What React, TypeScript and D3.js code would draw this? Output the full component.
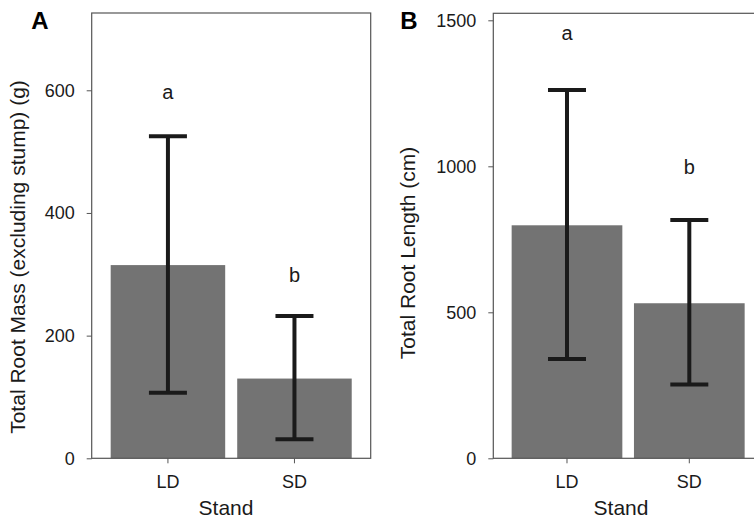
import React, { useRef, useEffect } from 'react';
import * as d3 from 'd3';

// stands on the x axis
const stands = ['LD', 'SD'];

// panel A: total root mass (g)
const massMean = [315, 130];
const massLow = [107, 31];
const massHigh = [525, 232];
const massLetters = ['a', 'b'];
const massLetterY = [598, 299];
const massTicks = [0, 200, 400, 600];

// panel B: total root length (cm)
const lengthMean = [798, 531];
const lengthLow = [340, 253];
const lengthHigh = [1261, 816];
const lengthLetters = ['a', 'b'];
const lengthLetterY = [1455, 998];
const lengthTicks = [0, 500, 1000, 1500];

const W = 754;
const H = 517;

function App() {
  const ref = useRef<SVGSVGElement>(null);

  useEffect(() => {
    const svg = d3.select(ref.current);
    svg.selectAll('*').remove();

    const font = 'Liberation Sans, Arial, sans-serif';

    const drawPanel = (opts: any) => {
      const { left, right, top, bottom, ymax, mean, low, high, letters, letterY, ticks, title, tag, tagX, titleX, titleY, standX } = opts;

      const g = svg.append('g');

      const x = d3.scaleBand()
        .domain(stands)
        .range([left, right])
        .paddingInner(0.095)
        .paddingOuter(0.15);

      const y = d3.scaleLinear()
        .domain([0, ymax])
        .range([bottom, top]);

      // bars
      g.selectAll('rect.bar')
        .data(stands)
        .join('rect')
        .attr('class', 'bar')
        .attr('x', d => x(d)!)
        .attr('width', x.bandwidth())
        .attr('y', (d, i) => y(mean[i]))
        .attr('height', (d, i) => y(0) - y(mean[i]))
        .attr('fill', '#737373');

      // frame
      g.append('rect')
        .attr('x', left)
        .attr('y', top)
        .attr('width', right - left)
        .attr('height', bottom - top)
        .attr('fill', 'none')
        .attr('stroke', '#555')
        .attr('stroke-width', 1.2);

      // error bars
      const cap = 19;
      const eb = g.append('g')
        .attr('stroke', '#1a1a1a')
        .attr('stroke-width', 4)
        .attr('fill', 'none');
      stands.forEach((s, i) => {
        const cx = x(s)! + x.bandwidth() / 2;
        eb.append('line').attr('x1', cx).attr('x2', cx).attr('y1', y(low[i])).attr('y2', y(high[i]));
        eb.append('line').attr('x1', cx - cap).attr('x2', cx + cap).attr('y1', y(low[i])).attr('y2', y(low[i]));
        eb.append('line').attr('x1', cx - cap).attr('x2', cx + cap).attr('y1', y(high[i])).attr('y2', y(high[i]));
      });

      // letters
      g.selectAll('text.letter')
        .data(stands)
        .join('text')
        .attr('class', 'letter')
        .attr('x', d => x(d)! + x.bandwidth() / 2)
        .attr('y', (d, i) => y(letterY[i]))
        .attr('dy', '0.35em')
        .attr('text-anchor', 'middle')
        .attr('font-family', font)
        .attr('font-size', 20)
        .attr('fill', '#1a1a1a')
        .text((d, i) => letters[i]);

      // y axis
      const yAxis = g.append('g')
        .attr('transform', `translate(${left},0)`)
        .call(d3.axisLeft(y).tickValues(ticks).tickSize(5).tickPadding(12).tickFormat(d3.format('d')));
      yAxis.select('.domain').remove();
      yAxis.selectAll('.tick line').attr('stroke', '#555');
      yAxis.selectAll('.tick text')
        .attr('font-family', font)
        .attr('font-size', 18)
        .attr('fill', '#1a1a1a');

      // x axis
      const xAxis = g.append('g')
        .attr('transform', `translate(0,${bottom})`)
        .call(d3.axisBottom(x).tickSize(5).tickPadding(12));
      xAxis.select('.domain').remove();
      xAxis.selectAll('.tick line').attr('stroke', '#555');
      xAxis.selectAll('.tick text')
        .attr('font-family', font)
        .attr('font-size', 18)
        .attr('fill', '#1a1a1a');

      g.append('text')
        .attr('x', standX)
        .attr('y', 514.5)
        .attr('text-anchor', 'middle')
        .attr('font-family', font)
        .attr('font-size', 21)
        .attr('fill', '#1a1a1a')
        .text('Stand');

      g.append('text')
        .attr('transform', `translate(${titleX},${titleY}) rotate(-90)`)
        .attr('dy', '0.35em')
        .attr('text-anchor', 'middle')
        .attr('font-family', font)
        .attr('font-size', 21)
        .attr('fill', '#1a1a1a')
        .text(title);

      g.append('text')
        .attr('x', tagX)
        .attr('y', 29.3)
        .attr('text-anchor', 'middle')
        .attr('font-family', font)
        .attr('font-size', 24)
        .attr('font-weight', 'bold')
        .attr('fill', '#000')
        .text(tag);
    };

    drawPanel({
      left: 91.7, right: 370.7, top: 13, bottom: 458.3, ymax: 726,
      mean: massMean, low: massLow, high: massHigh,
      letters: massLetters, letterY: massLetterY, ticks: massTicks,
      title: 'Total Root Mass (excluding stump) (g)', tag: 'A', tagX: 40,
      titleX: 18, titleY: 257, standX: 226,
    });

    drawPanel({
      left: 493.3, right: 763, top: 13.3, bottom: 458.3, ymax: 1524,
      mean: lengthMean, low: lengthLow, high: lengthHigh,
      letters: lengthLetters, letterY: lengthLetterY, ticks: lengthTicks,
      title: 'Total Root Length (cm)', tag: 'B', tagX: 409,
      titleX: 408, titleY: 253, standX: 621,
    });
  }, []);

  return (
    <svg ref={ref} width={W} height={H} style={{ display: 'block', position: 'absolute', left: 0, top: 0, background: '#fff' }} />
  );
}

export default App;
